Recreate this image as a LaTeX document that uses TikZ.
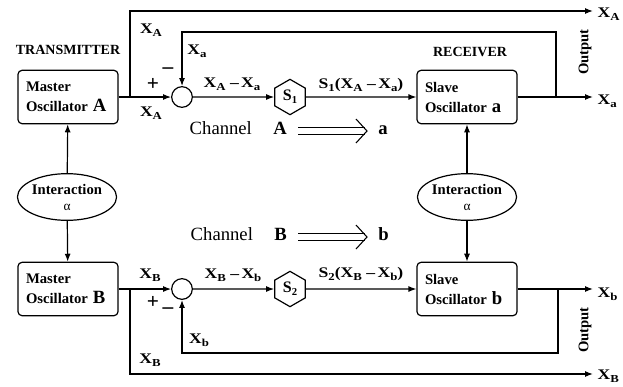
\documentclass[tikz,border=0pt]{standalone}
\usepackage{fontspec}
\setmainfont{Liberation Serif}
\newfontfamily\lblfont[FakeStretch=1.2]{Liberation Serif}
\usetikzlibrary{arrows.meta,shapes.geometric,positioning,calc}

\newcommand{\subs}[1]{\raisebox{-0.4ex}{\fontsize{8}{8}\selectfont #1}}
\newcommand{\oscname}[1]{{\fontsize{14}{14}\selectfont #1}}

\tikzset{
  osc/.style={draw, rounded corners=3pt, minimum width=75pt, minimum height=40pt,
    text width=63pt, align=left, font=\fontsize{11}{15}\selectfont\bfseries},
  inter/.style={draw, ellipse, minimum width=71pt, minimum height=35pt, inner sep=0pt,
    align=center, font=\fontsize{11}{12}\selectfont\bfseries},
  summer/.style={draw, circle, minimum size=15.5pt, inner sep=0pt},
  gain/.style={draw, regular polygon, regular polygon sides=6, regular polygon rotate=30,
    minimum size=26.5pt, inner sep=0pt, font=\fontsize{12}{12}\selectfont\bfseries},
  lbl/.style={inner sep=0pt, font=\lblfont\fontsize{11}{11}\selectfont\bfseries},
  heading/.style={inner sep=0pt, font=\fontsize{10.5}{10.5}\selectfont\bfseries},
  sgn/.style={inner sep=0pt, font=\fontsize{16}{16}\selectfont\bfseries},
  outtxt/.style={inner sep=0pt, rotate=90, font=\fontsize{11}{11}\selectfont\bfseries},
  chan/.style={inner xsep=8pt, text height=1.5ex, text depth=.25ex,
    font=\fontsize{14}{14}\selectfont},
  dbl/.style={double, double distance=4.5pt, line width=0.75pt, shorten >=1.5pt},
  chevron/.style={line width=0.8pt, line join=miter},
}

\begin{document}
\begin{tikzpicture}[x=0.75pt, y=-0.75pt, line width=0.9pt,
    >={Latex[length=6pt,width=4.5pt]}]
  \useasboundingbox (0,0) rectangle (623,386);
  % place blocks
  \node[osc] (mA) at (68,97) {Master\\Oscillator \oscname{A}};
  \node[osc] (mB) at (68,289) {Master\\Oscillator \oscname{B}};
  \node[osc] (sa) at (467,97) {Slave\\Oscillator \oscname{a}};
  \node[osc] (sb) at (467,289) {Slave\\Oscillator \oscname{b}};
  \node[inter] (iL) at (67,197) {Interaction\\{\mdseries\fontsize{10}{10}\selectfont α}};
  \node[inter] (iR) at (467,197) {Interaction\\{\mdseries\fontsize{10}{10}\selectfont α}};
  \node[summer] (sumA) at (182,97) {};
  \node[summer] (sumB) at (182,289) {};
  \node[gain] (gA) at (290,97) {S\subs{1}};
  \node[gain] (gB) at (290,289) {S\subs{2}};
  % titles and channels
  \node[heading] (tx) at (68,50) {TRANSMITTER};
  \node[heading] (rx) at (470,52) {RECEIVER};
  \node[chan, anchor=east] (chA) at (298,131) {Channel\hspace{16pt}\textbf{A}};
  \node[chan, anchor=west] (rcA) at (367,131) {\textbf{a}};
  \node[chan, anchor=east] (chB) at (298,237) {Channel\hspace{16pt}\textbf{B}};
  \node[chan, anchor=west] (rcB) at (367,237) {\textbf{b}};
  % branch and turn points
  \coordinate (brA) at (130,97);
  \coordinate (brB) at (130,289);
  \coordinate (tpA) at (556,97);
  \coordinate (tpB) at (558,289);
  \coordinate (fbA) at (556,32);
  \coordinate (fbB) at (558,353);
  \coordinate (eXA) at (593,11);
  \coordinate (eXa) at (593,97);
  \coordinate (eXb) at (593,289);
  \coordinate (eXB) at (593,374);
  % labels
  \node[lbl] at (151,30) {X\subs{A}};
  \node[lbl] at (197,51) {X\subs{a}};
  \node[lbl] at (151,113) {X\subs{A}};
  \node[lbl] at (232,84) {X\subs{A} –\,X\subs{a}};
  \node[lbl] at (361,85) {S\subs{1}(X\subs{A} –\,X\subs{a})};
  \node[lbl] at (150,275) {X\subs{B}};
  \node[lbl] at (199,340) {X\subs{b}};
  \node[lbl] at (150,360) {X\subs{B}};
  \node[lbl] at (233,275) {X\subs{B} –\,X\subs{b}};
  \node[lbl] at (361,274) {S\subs{2}(X\subs{B} –\,X\subs{b})};
  \node[lbl, anchor=west] at (597,14) {X\subs{A}};
  \node[lbl, anchor=west] at (597,101) {X\subs{a}};
  \node[lbl, anchor=west] at (597,294) {X\subs{b}};
  \node[lbl, anchor=west] at (597,376) {X\subs{B}};
  \node[sgn] at (153,84) {+};
  \node[sgn] at (168,71) {–};
  \node[sgn] at (153,302) {+};
  \node[sgn] at (168,311) {–};
  \node[outtxt] at (585,52) {Output};
  \node[outtxt] at (585,330) {Output};
  % draw edges
  \draw[->] (mA) -- (sumA);
  \draw[->] (brA) |- (eXA);
  \draw[->] (sumA) -- (gA);
  \draw[->] (gA) -- (sa);
  \draw[->] (sa) -- (eXa);
  \draw[->] (tpA) -- (fbA) -| (sumA);
  \draw[->] (mB) -- (sumB);
  \draw[->] (brB) |- (eXB);
  \draw[->] (sumB) -- (gB);
  \draw[->] (gB) -- (sb);
  \draw[->] (sb) -- (eXb);
  \draw[->] (tpB) -- (fbB) -| (sumB);
  \draw[->] (iL) -- (mA);
  \draw[->] (iL) -- (mB);
  \draw[->] (iR) -- (sa);
  \draw[->] (iR) -- (sb);
  % channel arrows
  \draw[dbl] (chA.east) -- (rcA.west);
  \draw[chevron] ($(rcA.west)+(-11,-12)$) -- (rcA.west) -- ($(rcA.west)+(-11,12)$);
  \draw[dbl] (chB.east) -- (rcB.west);
  \draw[chevron] ($(rcB.west)+(-11,-12)$) -- (rcB.west) -- ($(rcB.west)+(-11,12)$);
\end{tikzpicture}
\end{document}
